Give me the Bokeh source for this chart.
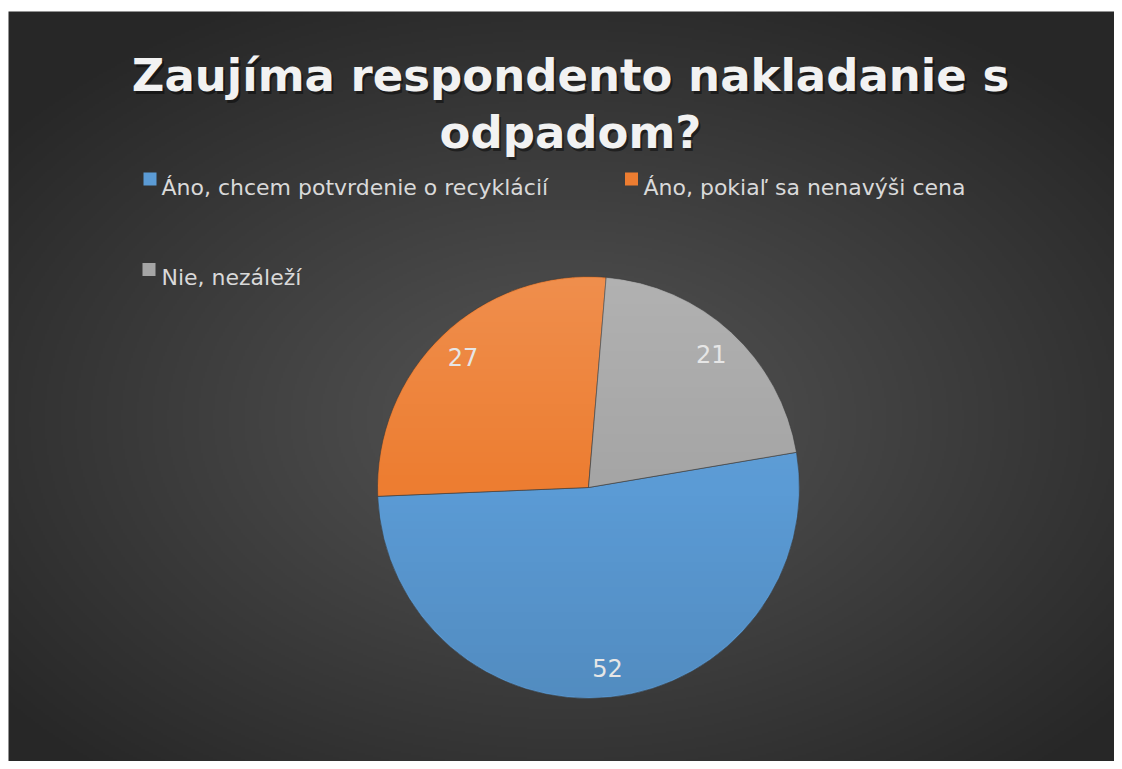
import numpy as np
from bokeh.plotting import figure
from bokeh.models import ColumnDataSource, Range1d
from bokeh.core.properties import value
from bokeh.embed import file_html
from bokeh.resources import INLINE

# ---- data ----
categories = ["Áno, chcem potvrdenie o recyklácií", "Áno, pokiaľ sa nenavýši cena", "Nie, nezáleží"]
values = [52, 27, 21]
colors = ["#5b9bd5", "#ed7d31", "#a5a5a5"]
title_lines = ["Zaujíma respondento nakladanie s", "odpadom?"]

# ---- layout (data units == screen pixels, y up) ----
W, H = 1114, 761
Y0 = 769 - H
BG_X0, BG_TOP = 8, 758
cx, cy, R = 588, 282, 211
start_deg = 9.6
FONT = "DejaVu Sans"

p = figure(width=W, height=H, x_range=Range1d(0, W), y_range=Range1d(Y0, Y0 + H),
           x_axis_location=None, y_axis_location=None, min_border=0,
           toolbar_location=None, output_backend="svg",
           background_fill_color="white", border_fill_color="white",
           outline_line_color=None)
p.grid.visible = False

# background radial gradient
H2, W2 = 375, 553
bw, bh = W - BG_X0, BG_TOP - Y0
xs = BG_X0 + (np.arange(W2) + 0.5) * bw / W2
ys = Y0 + (np.arange(H2) + 0.5) * bh / H2
X, Y = np.meshgrid(xs, ys)
d = np.sqrt(((X - 565) / 720.0) ** 2 + ((Y - 350) / 470.0) ** 2)
d = np.clip(d, 0, 1)
v = (0x56 - (0x56 - 0x27) * d).astype(np.uint8)
img = np.empty((H2, W2), dtype=np.uint32)
view = img.view(dtype=np.uint8).reshape((H2, W2, 4))
view[..., 0] = v
view[..., 1] = v
view[..., 2] = v
view[..., 3] = 255
p.image_rgba(image=[img], x=BG_X0, y=Y0, dw=bw, dh=bh)

# pie
total = float(sum(values))
fr = np.array(values) / total
cum = np.concatenate([[0.0], np.cumsum(fr)])
a0 = np.radians(start_deg)
starts = a0 - 2 * np.pi * cum[:-1]
ends = a0 - 2 * np.pi * cum[1:]
mids = a0 - 2 * np.pi * (cum[:-1] + fr / 2)
src = ColumnDataSource(dict(start=starts, end=ends, color=colors, cat=categories,
                            val=values,
                            lx=cx + 0.86 * R * np.cos(mids),
                            ly=cy + 0.86 * R * np.sin(mids),
                            lab=[str(x) for x in values]))
p.wedge(x=cx, y=cy, radius=R, start_angle="start", end_angle="end", direction="clock",
        fill_color="color", line_color="#3a3a3a", line_alpha=0.6, line_width=1, source=src)

# vertical shading over the pie (light top, darker bottom)
n = 2 * R
g = (np.arange(n) + 0.5) - R
GX, GY = np.meshgrid(g, g)
inside = (GX ** 2 + GY ** 2) <= (R - 1.0) ** 2
t = (GY + R) / (2 * R)           # 0 bottom .. 1 top
sh = np.empty((n, n), dtype=np.uint32)
sv = sh.view(dtype=np.uint8).reshape((n, n, 4))
top = t >= 0.5
sv[..., 0] = np.where(top, 255, 0)
sv[..., 1] = np.where(top, 255, 0)
sv[..., 2] = np.where(top, 255, 0)
alpha = np.where(top, (t - 0.5) * 2 * 0.14, (0.5 - t) * 2 * 0.10)
sv[..., 3] = np.where(inside, alpha * 255, 0).astype(np.uint8)
p.image_rgba(image=[sh], x=cx - R, y=cy - R, dw=2 * R, dh=2 * R)

p.text(x="lx", y="ly", text="lab", source=src, text_font=value(FONT), text_font_size="24px",
       text_color="#e6e6e6", text_align="center", text_baseline="middle")

# title (with soft shadow)
tx = [570, 570]
ty = [694, 637]
p.text(x=[t_ + 2 for t_ in tx], y=[t_ - 3 for t_ in ty], text=title_lines, text_font=value(FONT),
       text_font_style="bold", text_font_size="45px", text_color="black", text_alpha=0.45,
       text_align="center", text_baseline="alphabetic")
p.text(x=tx, y=ty, text=title_lines, text_font=value(FONT), text_font_style="bold",
       text_font_size="45px", text_color="#f2f2f2", text_align="center",
       text_baseline="alphabetic")

# legend
leg_sq_x = [149.5, 631, 148.5]
leg_sq_y = [590.5, 590.5, 500]
leg_tx = [161, 643, 161]
leg_ty = [582, 582, 492]
p.scatter(x=leg_sq_x, y=leg_sq_y, marker="square", size=13, fill_color=colors, line_color=None)
p.text(x=leg_tx, y=leg_ty, text=categories, text_font=value(FONT), text_font_size="22px",
       text_color="#d9d9d9", text_align="left", text_baseline="alphabetic")

open("out.html", "w").write(file_html(p, INLINE))
